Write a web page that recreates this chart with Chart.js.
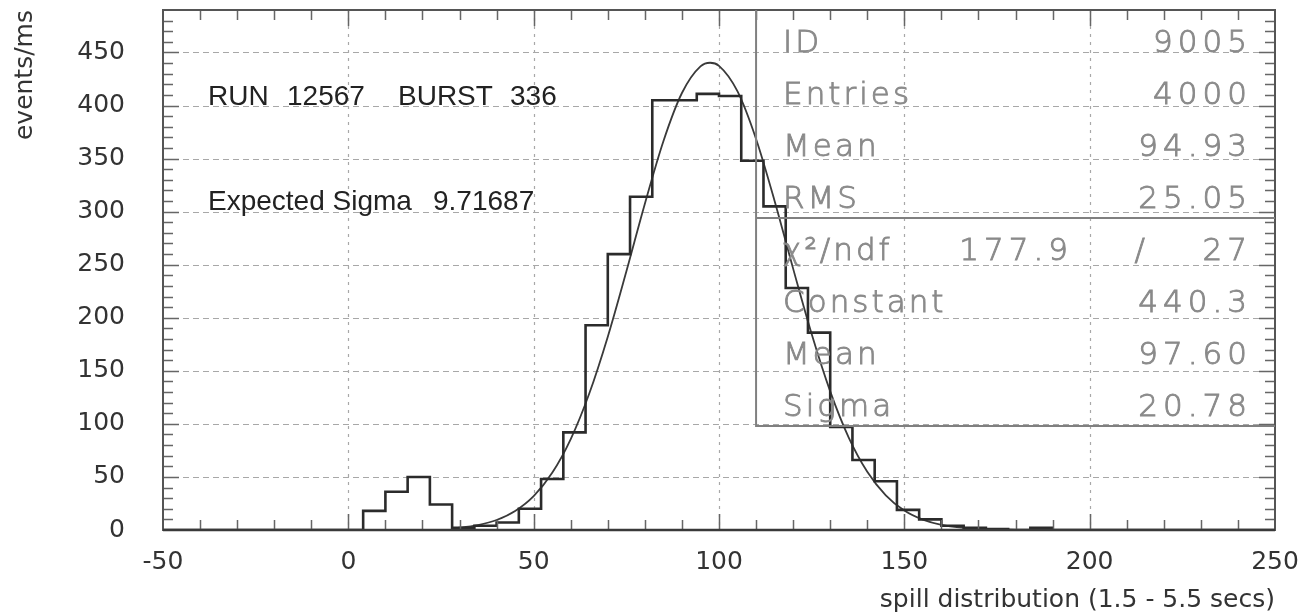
<!DOCTYPE html>
<html>
<head>
<meta charset="utf-8">
<script src="https://cdn.jsdelivr.net/npm/chart.js@4.4.0/dist/chart.umd.min.js"></script>
<style>
  html, body { margin: 0; padding: 0; background: #fff; }
  #wrap { width: 1302px; height: 615px; }
</style>
</head>
<body>
<div id="wrap"><canvas id="spill" width="1302" height="615"></canvas></div>
<script>
// histogram: bin edges (6 units wide) and contents in events/ms
const binEdges = [-50, -44, -38, -32, -26, -20, -14, -8, -2, 4, 10, 16, 22, 28, 34, 40, 46, 52, 58, 64,
                  70, 76, 82, 88, 94, 100, 106, 112, 118, 124, 130, 136, 142, 148, 154, 160, 166, 172, 178, 184,
                  190, 196, 202, 208, 214, 220, 226, 232, 238, 244, 250];
const binCounts = [0, 0, 0, 0, 0, 0, 0, 0, 0, 18, 36, 50, 24, 2, 4, 7, 20, 48, 92, 193,
                   260, 314, 405, 405, 411, 409, 348, 305, 228, 186, 97, 66, 46, 19, 10, 4, 2, 1, 0, 2,
                   0, 0, 0, 0, 0, 0, 0, 0, 0, 0];

// gaussian fit curve
const fitX = [28, 30, 35, 40, 45, 50, 55, 60, 65, 70, 75, 80, 85, 90, 95, 97.6, 100, 105, 110, 115,
              120, 125, 130, 135, 140, 145, 150, 155, 160, 170, 180, 200, 250];
const fitY = [1.6, 2.2, 4.7, 9.4, 17.9, 31.9, 53.9, 85.7, 128.6, 182.2, 243.6, 307.5, 366.4, 411.8, 436.9, 440.3, 437.4, 413.3, 368.5, 310.1,
              246.3, 184.6, 130.6, 87.1, 54.9, 32.7, 18.3, 9.7, 4.8, 1.0, 0.2, 0, 0];

// stats box text
const statLabels = ['ID', 'Entries', 'Mean', 'RMS'];
const statValues = ['9005', '4000', '94.93', '25.05'];
const fitLabels = ['Constant', 'Mean', 'Sigma'];
const fitValues = ['440.3', '97.60', '20.78'];
const chi2 = '177.9';
const ndf = '27';

const xMin = -50, xMax = 250, yMin = 0, yMax = 490;

const histPoints = binEdges.map((e, i) => ({ x: e, y: i < binCounts.length ? binCounts[i] : 0 }));
const fitPoints = fitX.map((x, i) => ({ x: x, y: fitY[i] }));

// gray stroke-font look for the stats box
function statText(ctx, t, x, y, spacing) {
    if ('letterSpacing' in ctx) ctx.letterSpacing = spacing + 'px';
    ctx.fillText(t, x, y);
    ctx.strokeText(t, x, y);
}

// frame, dashed grid, inward ticks, stats box and text labels in PAW style
const pawPlugin = {
    id: 'paw',
    beforeDatasetsDraw(chart) {
        const ctx = chart.ctx;
        const a = chart.chartArea;
        const xs = chart.scales.x, ys = chart.scales.y;
        ctx.save();
        ctx.strokeStyle = '#a8a8a8';
        ctx.lineWidth = 1.2;
        // vertical grid
        ctx.setLineDash([3, 5]);
        for (let v = 0; v < xMax; v += 50) {
            const px = Math.round(xs.getPixelForValue(v)) + 0.5;
            ctx.beginPath(); ctx.moveTo(px, a.top); ctx.lineTo(px, a.bottom); ctx.stroke();
        }
        // horizontal grid
        ctx.setLineDash([6, 4]);
        for (let v = 50; v < yMax; v += 50) {
            const py = Math.round(ys.getPixelForValue(v)) + 0.5;
            ctx.beginPath(); ctx.moveTo(a.left, py); ctx.lineTo(a.right, py); ctx.stroke();
        }
        ctx.restore();
    },
    afterDatasetsDraw(chart) {
        const ctx = chart.ctx;
        const a = chart.chartArea;
        const xs = chart.scales.x, ys = chart.scales.y;
        ctx.save();

        // ticks
        ctx.strokeStyle = '#666';
        ctx.lineWidth = 1.5;
        ctx.beginPath();
        for (let v = xMin + 10; v < xMax; v += 10) {
            const px = Math.round(xs.getPixelForValue(v)) + 0.5;
            const len = v % 50 === 0 ? 16 : 10;
            ctx.moveTo(px, a.bottom); ctx.lineTo(px, a.bottom - len);
            ctx.moveTo(px, a.top); ctx.lineTo(px, a.top + len);
        }
        for (let v = yMin + 10; v < yMax; v += 10) {
            const py = Math.round(ys.getPixelForValue(v)) + 0.5;
            const len = v % 50 === 0 ? 16 : 10;
            ctx.moveTo(a.left, py); ctx.lineTo(a.left + len, py);
            ctx.moveTo(a.right, py); ctx.lineTo(a.right - len, py);
        }
        ctx.stroke();

        // frame
        ctx.strokeStyle = '#555';
        ctx.lineWidth = 2;
        ctx.strokeRect(a.left, a.top, a.right - a.left, a.bottom - a.top);
        ctx.strokeStyle = '#3a3a3a';
        ctx.lineWidth = 2.5;
        ctx.beginPath(); ctx.moveTo(a.left, a.bottom); ctx.lineTo(a.right, a.bottom); ctx.stroke();

        // stats box
        const bl = xs.getPixelForValue(110);
        const bt = a.top;
        const bm = ys.getPixelForValue(294);
        const bb = ys.getPixelForValue(98);
        const br = a.right;
        ctx.strokeStyle = '#808080';
        ctx.lineWidth = 2;
        ctx.beginPath();
        ctx.moveTo(bl, bt); ctx.lineTo(bl, bb); ctx.lineTo(br, bb);
        ctx.moveTo(bl, bm); ctx.lineTo(br, bm);
        ctx.stroke();

        ctx.fillStyle = '#8a8a8a';
        ctx.strokeStyle = '#8a8a8a';
        ctx.lineWidth = 0.9;
        ctx.font = '200 31px "DejaVu Sans"';
        ctx.textBaseline = 'alphabetic';
        const lx = bl + 27, rx = br - 23;
        const h1 = (bm - bt) / 4;
        statLabels.forEach((t, i) => {
            const y = bt + h1 * (i + 1) - 10;
            ctx.textAlign = 'left'; statText(ctx, t, lx, y, 3);
            ctx.textAlign = 'right'; statText(ctx, statValues[i], rx, y, 5);
        });
        const h2 = (bb - bm) / 4;
        const y0 = bm + h2 - 10;
        ctx.textAlign = 'left'; statText(ctx, '\u03c7\u00b2/ndf', lx, y0, 3);
        ctx.textAlign = 'right'; statText(ctx, chi2, bl + 317, y0, 5);
        statText(ctx, '/', bl + 392, y0, 3);
        statText(ctx, ndf, rx, y0, 5);
        fitLabels.forEach((t, i) => {
            const y = bm + h2 * (i + 2) - 10;
            ctx.textAlign = 'left'; statText(ctx, t, lx, y, 3);
            ctx.textAlign = 'right'; statText(ctx, fitValues[i], rx, y, 5);
        });
        if ('letterSpacing' in ctx) ctx.letterSpacing = '0px';

        // run info
        ctx.fillStyle = '#222';
        ctx.font = '28px "Liberation Sans", Arial, sans-serif';
        ctx.textAlign = 'left';
        ctx.fillText('RUN', a.left + 45, 105);
        ctx.fillText('12567', a.left + 124, 105);
        ctx.fillText('BURST', a.left + 235, 105);
        ctx.fillText('336', a.left + 347, 105);
        ctx.fillText('Expected Sigma', a.left + 45, 210);
        ctx.fillText('9.71687', a.left + 270, 210);
        ctx.restore();
    }
};

const axisFont = { family: '"DejaVu Sans", sans-serif', size: 25 };
const titleFont = { family: '"DejaVu Sans", sans-serif', size: 25 };

new Chart(document.getElementById('spill'), {
    type: 'line',
    data: {
        datasets: [
            {
                label: 'spill',
                data: histPoints,
                stepped: 'before',
                borderColor: '#2b2b2b',
                borderWidth: 2.6,
                pointRadius: 0,
                fill: false
            },
            {
                label: 'fit',
                data: fitPoints,
                borderColor: '#3a3a3a',
                borderWidth: 1.8,
                pointRadius: 0,
                cubicInterpolationMode: 'monotone',
                fill: false
            }
        ]
    },
    options: {
        responsive: false,
        animation: false,
        layout: { autoPadding: false, padding: { left: 0, right: 27, top: 10, bottom: 0 } },
        plugins: { legend: { display: false }, tooltip: { enabled: false } },
        scales: {
            x: {
                type: 'linear',
                min: xMin,
                max: xMax,
                afterFit: s => { s.height = 85; s.paddingLeft = 0; s.paddingRight = 0; },
                grid: { display: false },
                border: { display: false },
                ticks: {
                    stepSize: 50,
                    autoSkip: false,
                    maxRotation: 0,
                    padding: 9,
                    color: '#333',
                    font: axisFont
                },
                title: {
                    display: true,
                    text: 'spill distribution (1.5 - 5.5 secs)',
                    align: 'end',
                    color: '#333',
                    font: titleFont,
                    padding: { top: 0, bottom: 0 }
                }
            },
            y: {
                min: yMin,
                max: yMax,
                afterFit: s => { s.width = 163; s.paddingTop = 0; s.paddingBottom = 0; },
                grid: { display: false },
                border: { display: false },
                ticks: {
                    stepSize: 50,
                    includeBounds: false,
                    padding: 30,
                    color: '#333',
                    font: axisFont
                },
                title: {
                    display: true,
                    text: 'events/ms',
                    align: 'end',
                    color: '#333',
                    font: titleFont,
                    padding: { top: 10, bottom: 0 }
                }
            }
        }
    },
    plugins: [pawPlugin]
});
</script>
</body>
</html>
